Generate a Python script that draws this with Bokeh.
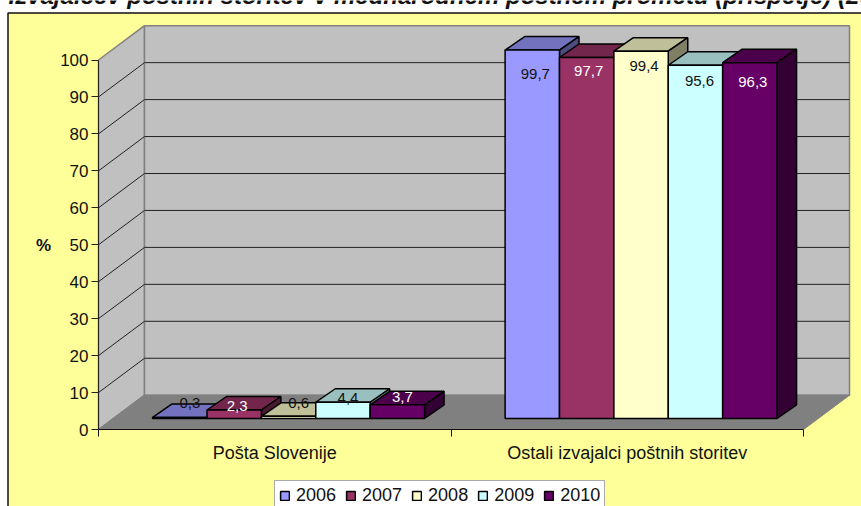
from bokeh.plotting import figure
from bokeh.embed import file_html
from bokeh.resources import INLINE
from bokeh.core.properties import value
from bokeh.models import FixedTicker, Legend, LegendItem, LinearAxis, Range1d

TITLE = "Izvajalcev poštnih storitev v mednarodnem poštnem prometu (prispetje) (2010)"
CATEGORIES = ["Pošta Slovenije", "Ostali izvajalci poštnih storitev"]
YEARS = ["2006", "2007", "2008", "2009", "2010"]
S2006 = [0.3, 99.7]
S2007 = [2.3, 97.7]
S2008 = [0.6, 99.4]
S2009 = [4.4, 95.6]
S2010 = [3.7, 96.3]
SERIES = [S2006, S2007, S2008, S2009, S2010]
Y_TICKS = list(range(0, 101, 10))

COLORS = ["#9999FF", "#993366", "#FFFFCC", "#CCFFFF", "#660066"]
TEXT_COLORS = ["#111111", "#FFFFFF", "#111111", "#111111", "#FFFFFF"]
# label nudges in pixels, [series][category]: right of bar centre, below bar top
LABEL_DX = [[10, 3], [3, 2], [10, 3], [5, 4], [5, 3]]
LABEL_DY = [[-14, 24], [-4, 14], [-13, 15], [-4, 16], [-8, 19]]

# layout (pixels per data unit and pseudo-3D depth)
W, H = 861, 506
ORIGIN_X, ORIGIN_Y = 98, 429
PX_X = 352.5
PX_Y = 3.695
DX = 46 / PX_X
DY = 34.3 / PX_Y
BAR_DX = 19.5 / PX_X
BAR_DY = 13.5 / PX_Y
BAR_BASE = 11 / PX_Y
BAR_INSET = 0.1535
BAR_W = 0.1543


def shade(c, f):
    return "#" + "".join(f"{int(int(c[i:i + 2], 16) * f):02X}" for i in (1, 3, 5))


x_lo, x_hi = -ORIGIN_X / PX_X, (W - ORIGIN_X) / PX_X
y_lo, y_hi = -(H - ORIGIN_Y) / PX_Y, ORIGIN_Y / PX_Y

p = figure(width=W, height=H, output_backend="svg", toolbar_location=None,
           x_range=Range1d(x_lo, x_hi), y_range=Range1d(y_lo, y_hi),
           x_axis_type=None, y_axis_type=None,
           min_border=0, background_fill_color="white", border_fill_color="white",
           outline_line_color=None)
p.grid.visible = False

# chart area: its left and top edges show, the others run off the picture
p.quad(left=[x_lo + 7.5 / PX_X], right=[x_hi + 1], bottom=[y_lo - 1], top=[y_hi - 12.5 / PX_Y],
       fill_color="#FFFF99", line_color="#111111", line_width=1.5)

# walls and floor
n = len(CATEGORIES)
ymax = Y_TICKS[-1]
p.patch([0, DX, DX, 0], [0, DY, ymax + DY, ymax], fill_color="#C0C0C0",
        line_color="#808080", line_width=1.5)
p.patch([DX, n + DX, n + DX, DX], [DY, DY, ymax + DY, ymax + DY], fill_color="#C0C0C0",
        line_color="#808080", line_width=1.5)
grid = Y_TICKS[1:-1]
p.multi_line([[0, DX, n + DX] for _ in grid], [[t, t + DY, t + DY] for t in grid],
             line_color="#222222", line_width=1)
p.patch([0, DX, n + DX, n], [0, DY, DY, 0], fill_color="#808080",
        line_color="#808080", line_width=1)

# axes, fixed inside the full-picture frame
yaxis = LinearAxis(fixed_location=0, ticker=FixedTicker(ticks=Y_TICKS), bounds=(0, 100),
                   axis_label="%", axis_label_orientation="horizontal",
                   axis_label_text_font="Liberation Sans",
                   axis_label_text_font_style="bold",
                   axis_label_text_font_size="17px",
                   axis_label_text_color="#111111", axis_label_standoff=6,
                   major_label_text_font="Liberation Sans",
                   major_label_text_font_size="17px",
                   major_label_text_color="#111111", major_label_standoff=3,
                   major_tick_out=7, major_tick_in=0, minor_tick_out=0, minor_tick_in=0,
                   axis_line_color="#222222", major_tick_line_color="#222222")
p.add_layout(yaxis, "left")

xaxis = LinearAxis(fixed_location=0, ticker=FixedTicker(ticks=[0.5, 1.5], minor_ticks=[0, 1, 2]),
                   bounds=(0, 2),
                   major_label_overrides={0.5: CATEGORIES[0], 1.5: CATEGORIES[1]},
                   major_label_text_font="Liberation Sans",
                   major_label_text_font_size="18px",
                   major_label_text_color="#111111", major_label_standoff=6,
                   major_tick_out=0, major_tick_in=0,
                   minor_tick_out=7, minor_tick_in=0,
                   axis_line_color="#111111", minor_tick_line_color="#111111")
p.add_layout(xaxis, "below")

# bars
items = []
for k, (vals, col) in enumerate(zip(SERIES, COLORS)):
    x0 = [c + BAR_INSET + k * BAR_W for c in range(n)]
    x1 = [x + BAR_W for x in x0]
    tops = [BAR_BASE + v for v in vals]
    p.patches([[a, a + BAR_DX, b + BAR_DX, b] for a, b in zip(x0, x1)],
              [[t, t + BAR_DY, t + BAR_DY, t] for t in tops],
              fill_color=shade(col, 0.75), line_color="black", line_width=1.5)
    p.patches([[b, b + BAR_DX, b + BAR_DX, b] for b in x1],
              [[BAR_BASE, BAR_BASE + BAR_DY, t + BAR_DY, t] for t in tops],
              fill_color=shade(col, 0.5), line_color="black", line_width=1.5)
    r = p.quad(left=x0, right=x1, bottom=[BAR_BASE] * n, top=tops,
               fill_color=col, line_color="black", line_width=1.5)
    items.append(LegendItem(label=YEARS[k], renderers=[r]))

# data labels
for k, (vals, col) in enumerate(zip(SERIES, TEXT_COLORS)):
    xs = [c + BAR_INSET + (k + 0.5) * BAR_W + LABEL_DX[k][c] / PX_X for c in range(n)]
    ys = [BAR_BASE + v - LABEL_DY[k][c] / PX_Y for c, v in enumerate(vals)]
    p.text(xs, ys, text=[f"{v:.1f}".replace(".", ",") for v in vals],
           text_font=value("Liberation Sans"), text_font_size="15px",
           text_color=col, text_align="center", text_baseline="middle")

# title, cut by the top and right of the picture as in the reference
p.text([(8 - ORIGIN_X) / PX_X], [(ORIGIN_Y + 5) / PX_Y], text=[TITLE],
       text_font=value("Liberation Sans"), text_font_style="bold italic",
       text_font_size="24px", text_color="#111111",
       text_align="left", text_baseline="alphabetic")

legend = Legend(items=items, orientation="horizontal",
                location=(274, -5),
                glyph_width=11, glyph_height=11, label_standoff=6, spacing=9,
                padding=4, margin=0,
                label_text_font="Liberation Sans", label_text_font_size="18px",
                label_text_color="#111111", label_height=14,
                background_fill_color="white", background_fill_alpha=1,
                border_line_color="#555555", border_line_width=1.5)
p.add_layout(legend, "center")

open("out.html", "w").write(file_html(p, INLINE))
